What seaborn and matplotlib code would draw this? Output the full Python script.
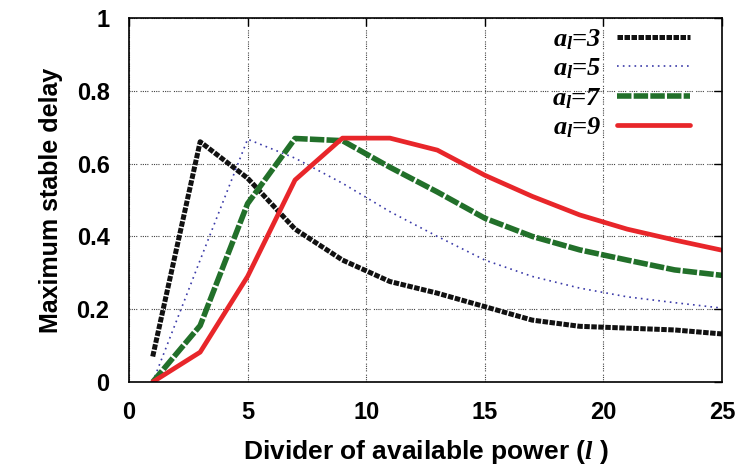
import matplotlib
matplotlib.use("Agg")
import matplotlib.pyplot as plt
import seaborn as sns
import pandas as pd

x_vals = [1, 3, 5, 7, 9, 11, 13, 15, 17, 19, 21, 23, 25]
a3 = [0.07, 0.66, 0.56, 0.42, 0.335, 0.276, 0.244, 0.207, 0.17, 0.153, 0.148, 0.143, 0.132]
a5 = [0.0, 0.335, 0.667, 0.615, 0.546, 0.468, 0.40, 0.335, 0.29, 0.258, 0.234, 0.218, 0.203]
a7 = [0.0, 0.155, 0.49, 0.669, 0.663, 0.59, 0.522, 0.45, 0.40, 0.363, 0.335, 0.308, 0.293]
a9 = [0.0, 0.082, 0.29, 0.555, 0.67, 0.67, 0.637, 0.568, 0.51, 0.459, 0.42, 0.39, 0.362]
series_labels = [r"$a_l$=3", r"$a_l$=5", r"$a_l$=7", r"$a_l$=9"]
x_ticks = [0, 5, 10, 15, 20, 25]
y_ticks = [0, 0.2, 0.4, 0.6, 0.8, 1]
y_ticklabels = ["0", "0.2", "0.4", "0.6", "0.8", "1"]

rows = []
for lab, ys in zip(series_labels, [a3, a5, a7, a9]):
    for xv, yv in zip(x_vals, ys):
        rows.append({"x": xv, "y": yv, "series": lab})
df = pd.DataFrame(rows)

sns.set_theme(style="white")
plt.rcParams["font.family"] = ["Liberation Sans", "DejaVu Sans"]
plt.rcParams["text.color"] = "black"
plt.rcParams["axes.labelcolor"] = "black"
plt.rcParams["mathtext.fontset"] = "custom"
plt.rcParams["mathtext.it"] = "Liberation Serif:italic:bold"
plt.rcParams["mathtext.rm"] = "Liberation Serif:bold"

W, H = 741, 470
L, R, T, B = 129, 722, 18, 382
fig = plt.figure(figsize=(W / 100, H / 100), dpi=100)
ax = fig.add_axes([L / W, 1 - B / H, (R - L) / W, (B - T) / H])

palette = {series_labels[0]: "#111111", series_labels[1]: "#3a3aa8",
           series_labels[2]: "#22702a", series_labels[3]: "#e8262a"}
dashes = {series_labels[0]: (1.1, 0.3), series_labels[1]: (1, 2.5),
          series_labels[2]: (2.6, 0.4), series_labels[3]: ""}
sizes = {series_labels[0]: 3.6, series_labels[1]: 1.2,
         series_labels[2]: 4.0, series_labels[3]: 3.4}

sns.lineplot(data=df, x="x", y="y", hue="series", style="series", size="series",
             palette=palette, dashes=dashes, sizes=sizes, ax=ax, legend=False)

ax.set_xlim(0, 25)
ax.set_ylim(0, 1)
ax.set_xticks(x_ticks)
ax.set_yticks(y_ticks)
ax.set_yticklabels(y_ticklabels)
ax.grid(True, linestyle=(0, (1, 1, 1, 1, 1, 1, 1, 3)), color="#444444", linewidth=0.8)
for s in ax.spines.values():
    s.set_color("black")
    s.set_linewidth(1.2)
ax.tick_params(direction="in", top=True, right=True, length=6, width=1,
               labelsize=17, colors="black", labelcolor="black", pad=14)
for t in ax.get_xticklabels() + ax.get_yticklabels():
    t.set_fontweight("bold")
ax.set_xlabel("Divider of available power ($l$ )", fontsize=19, fontweight="bold",
              labelpad=10, color="black")
ax.set_ylabel("Maximum stable delay", fontsize=18, fontweight="bold",
              labelpad=10, color="black")

handles = []
for lab in series_labels:
    ls = dashes[lab]
    if ls:
        h, = ax.plot([], [], color=palette[lab], linewidth=sizes[lab], linestyle="--", dashes=ls)
    else:
        h, = ax.plot([], [], color=palette[lab], linewidth=sizes[lab], linestyle="-")
    handles.append(h)
fs = 19
anchor_x = (690 + 0.2 * fs * 1.389 - L) / (R - L)
anchor_y = 1 - (22 - T) / (B - T)
leg = ax.legend(handles, series_labels, loc="upper right", frameon=False,
                bbox_to_anchor=(anchor_x, anchor_y),
                markerfirst=False, handlelength=2.75, labelspacing=0.18,
                borderaxespad=0, borderpad=0.2, handletextpad=0.6,
                prop={"family": "Liberation Serif", "style": "italic", "weight": "bold", "size": fs})
for t in leg.get_texts():
    t.set_color("black")

fig.savefig("out.png", dpi=100)
